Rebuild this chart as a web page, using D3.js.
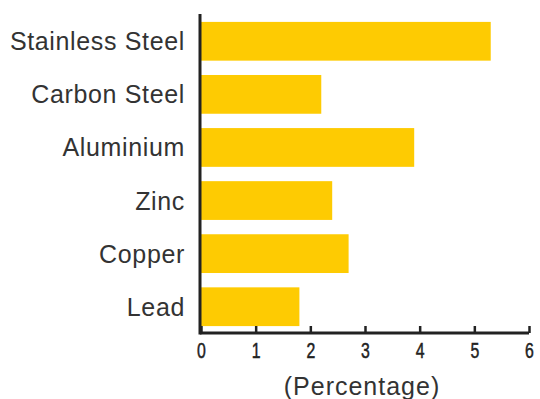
<!DOCTYPE html>
<html>
<head>
<meta charset="utf-8">
<script src="https://cdn.jsdelivr.net/npm/d3@7"></script>
<style>
  html, body { margin: 0; padding: 0; background: #fff; }
  svg { display: block; }
</style>
</head>
<body>
<svg id="chart" width="540" height="399"></svg>
<script>
// Share of each metal (percentage)
const categories = ["Stainless Steel", "Carbon Steel", "Aluminium", "Zinc", "Copper", "Lead"];
const values = [5.3, 2.2, 3.9, 2.4, 2.7, 1.8];
const xTicks = [0, 1, 2, 3, 4, 5, 6];
const xTitle = "(Percentage)";

const svg = d3.select("#chart");
const plotLeft = 201, plotRight = 529, plotTop = 15, plotBottom = 333;

const x = d3.scaleLinear().domain([0, 6]).range([plotLeft, plotRight]);
const y = d3.scaleBand().domain(categories).range([plotTop, plotBottom])
  .paddingInner(0.27).paddingOuter(0.13);

// Bars
svg.append("g").selectAll("rect")
  .data(categories)
  .join("rect")
  .attr("x", x(0))
  .attr("y", d => y(d))
  .attr("width", (d, i) => x(values[i]) - x(0))
  .attr("height", y.bandwidth())
  .attr("fill", "#fecb02");

// Category labels
svg.append("g").selectAll("text")
  .data(categories)
  .join("text")
  .attr("x", 185)
  .attr("y", d => y(d) + y.bandwidth() / 2)
  .attr("dy", "0.36em")
  .attr("text-anchor", "end")
  .attr("font-family", "Liberation Sans, Arial, sans-serif")
  .attr("font-size", 25)
  .attr("letter-spacing", 0.65)
  .attr("fill", "#333")
  .text(d => d);

// Bottom axis with inward ticks and condensed digits
const xAxis = d3.axisBottom(x).tickValues(xTicks).tickSize(-7).tickPadding(9).tickFormat(d3.format("d"));
const gx = svg.append("g").attr("transform", `translate(0,${plotBottom})`).call(xAxis);
gx.select(".domain").attr("stroke", "#222").attr("stroke-width", 3)
  .attr("d", `M${plotLeft - 1},0H${plotRight}`);
gx.selectAll(".tick line").attr("stroke", "#222").attr("stroke-width", 2.5);
gx.selectAll(".tick text")
  .attr("font-family", "Liberation Sans, Arial, sans-serif")
  .attr("font-size", 22)
  .attr("transform", "scale(0.72,1)")
  .attr("stroke", "#222")
  .attr("stroke-width", 0.5)
  .attr("fill", "#222");

// Vertical axis line
svg.append("line")
  .attr("x1", plotLeft - 1).attr("x2", plotLeft - 1)
  .attr("y1", plotTop - 1).attr("y2", plotBottom + 1.5)
  .attr("stroke", "#222").attr("stroke-width", 3);

// Axis title
svg.append("text")
  .attr("x", (x(0) + x(6)) / 2 - 3)
  .attr("y", 395)
  .attr("text-anchor", "middle")
  .attr("font-family", "Liberation Sans, Arial, sans-serif")
  .attr("font-size", 25)
  .attr("letter-spacing", 1)
  .attr("fill", "#333")
  .text(xTitle);
</script>
</body>
</html>
